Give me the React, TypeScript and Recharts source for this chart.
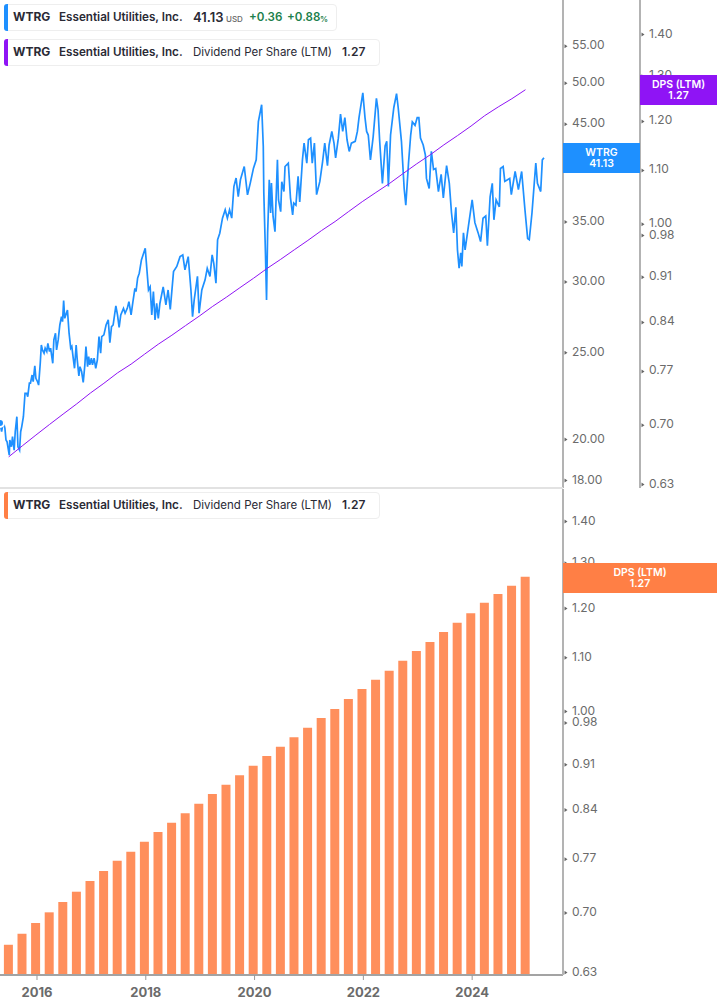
import React from "react";
import { ComposedChart, Line, Bar, XAxis, YAxis } from "recharts";

const FONT = "Inter, 'Noto Sans', sans-serif";
const BLUE = "#1E90FF";
const PURPLE = "#8F14F5";
const ORANGE = "#FF8F5C";
const ORANGE_TAG = "#FF7F45";

const priceDates = [
  2015.32,2015.35,2015.38,2015.41,2015.43,2015.45,2015.49,2015.50,2015.53,2015.55,2015.58,2015.60,2015.63,2015.65,2015.68,2015.70,2015.72,2015.75,2015.78,2015.81,2015.83,2015.86,2015.88,2015.91,2015.93,2015.96,2015.98,
  2016.01,2016.03,2016.06,2016.08,2016.10,2016.13,2016.15,2016.18,2016.20,2016.23,2016.25,2016.29,2016.31,2016.34,2016.36,2016.39,2016.42,2016.45,2016.47,2016.49,2016.51,2016.53,2016.56,2016.59,2016.62,2016.64,2016.67,2016.69,2016.72,2016.74,2016.77,2016.79,2016.82,2016.85,2016.88,2016.90,2016.93,2016.95,2016.97,
  2017.00,2017.02,2017.05,2017.08,2017.11,2017.14,2017.17,2017.19,2017.23,2017.27,2017.31,2017.34,2017.37,2017.40,2017.45,2017.48,2017.51,2017.54,2017.59,2017.62,2017.66,2017.69,2017.73,2017.76,2017.80,2017.82,2017.85,2017.88,2017.92,2017.99,
  2018.05,2018.08,2018.11,2018.14,2018.17,2018.20,2018.23,2018.26,2018.32,2018.37,2018.41,2018.45,2018.51,2018.57,2018.63,2018.68,2018.72,2018.78,2018.83,2018.86,2018.89,2018.95,2018.98,
  2019.03,2019.09,2019.13,2019.18,2019.22,2019.25,2019.29,2019.32,2019.36,2019.41,2019.46,2019.50,2019.54,2019.58,2019.62,2019.66,2019.70,2019.74,2019.81,2019.87,2019.92,2019.98,
  2020.03,2020.07,2020.13,2020.16,2020.17,2020.20,2020.22,2020.24,2020.25,2020.27,2020.295,2020.31,2020.34,2020.375,2020.42,2020.44,2020.48,2020.50,2020.54,2020.56,2020.62,2020.66,2020.70,2020.72,2020.76,2020.80,2020.83,2020.88,2020.91,2020.96,2020.99,
  2021.03,2021.06,2021.10,2021.14,2021.20,2021.25,2021.29,2021.34,2021.37,2021.42,2021.46,2021.49,2021.54,2021.58,2021.62,2021.66,2021.70,2021.74,2021.78,2021.85,2021.89,2021.92,2021.99,
  2022.03,2022.06,2022.09,2022.13,2022.18,2022.24,2022.27,2022.30,2022.35,2022.40,2022.43,2022.46,2022.50,2022.56,2022.61,2022.64,2022.70,2022.75,2022.78,2022.83,2022.87,2022.90,2022.95,2022.99,
  2023.02,2023.05,2023.10,2023.14,2023.16,2023.21,2023.25,2023.29,2023.33,2023.38,2023.43,2023.47,2023.53,2023.58,2023.62,2023.66,2023.70,2023.73,2023.76,2023.79,2023.81,2023.84,2023.87,2023.93,
  2024.00,2024.05,2024.11,2024.155,2024.20,2024.25,2024.28,2024.33,2024.37,2024.40,2024.44,2024.50,2024.52,2024.57,2024.60,2024.69,2024.72,2024.79,2024.85,2024.91,2024.97,
  2025.02,2025.05,2025.10,2025.17,2025.20,2025.26,2025.29,2025.32,
];

const priceValues = [
  20.79,20.33,20.86,20.52,19.90,19.81,19.14,19.90,19.56,20.07,19.39,20.33,21.13,19.56,19.39,20.33,20.60,21.13,22.44,22.44,22.25,23.03,23.03,23.52,23.12,24.08,23.32,
  23.12,22.92,24.24,25.41,25.09,24.88,25.20,24.98,25.52,24.98,25.20,24.24,25.74,26.19,25.09,25.74,26.75,27.33,26.98,28.48,27.21,27.45,27.80,26.19,25.20,25.31,24.45,23.93,25.41,24.45,23.46,24.03,23.73,23.08,24.14,25.31,24.03,24.66,24.14,
  24.56,24.14,24.56,23.93,24.45,25.96,24.88,25.96,26.08,26.75,27.10,25.56,26.63,26.75,28.09,27.45,26.59,27.45,27.92,27.57,27.92,28.41,27.45,28.29,29.40,29.15,30.18,30.56,31.62,32.58,
  29.27,29.51,27.45,29.15,27.10,28.29,27.21,28.29,29.51,28.17,29.27,27.85,30.69,31.10,31.89,32.03,30.82,31.89,29.27,27.33,28.53,30.31,27.57,
  29.27,30.04,30.95,30.31,32.03,31.35,29.78,33.30,33.87,35.21,35.97,35.21,35.97,35.21,38.19,39.03,37.22,38.86,40.21,37.38,38.50,40.04,
  40.90,45.13,47.13,42.36,37.55,32.18,28.53,33.90,35.36,38.86,35.67,38.53,35.36,34.00,40.90,36.90,35.80,38.66,37.70,40.21,40.56,37.10,35.50,36.60,36.40,39.20,36.70,40.90,42.70,40.56,43.07,
  43.25,40.56,42.70,37.40,38.70,40.70,42.70,40.30,42.50,44.00,42.70,41.10,43.25,46.00,44.00,45.60,43.07,41.80,42.70,42.90,44.00,45.60,48.60,
  45.60,44.00,43.60,40.90,43.40,47.90,46.50,42.90,38.50,42.40,42.90,38.20,43.60,46.80,48.50,46.80,42.90,38.00,36.40,40.56,43.60,45.10,44.70,45.60,
  45.60,43.25,42.50,41.40,39.00,38.00,41.80,39.90,40.00,37.70,39.40,37.10,40.30,38.50,35.70,33.90,36.20,32.45,30.95,32.20,31.10,33.90,32.45,34.45,
  36.90,34.80,33.90,33.15,35.20,35.40,32.80,37.20,38.50,35.06,36.90,36.25,40.00,40.20,38.70,39.00,37.40,39.70,37.90,39.70,36.00,
  33.40,33.30,35.70,40.56,38.50,37.70,40.90,41.13,
];

const dpsDates = [
  2015.48,2015.73,2015.98,2016.23,2016.48,2016.73,2016.98,2017.23,2017.48,2017.73,
  2017.98,2018.23,2018.48,2018.73,2018.98,2019.23,2019.48,2019.73,2019.98,2020.23,
  2020.48,2020.73,2020.98,2021.23,2021.48,2021.73,2021.98,2022.23,2022.48,2022.73,
  2022.98,2023.23,2023.48,2023.73,2023.98,2024.23,2024.48,2024.73,2024.98,
];

const dpsValues = [
  0.660,0.673,0.686,0.699,0.712,0.725,0.739,0.752,0.766,0.778,
  0.792,0.806,0.819,0.833,0.847,0.862,0.876,0.891,0.906,0.922,
  0.937,0.953,0.969,0.986,1.002,1.020,1.038,1.055,1.072,1.091,
  1.110,1.128,1.148,1.167,1.187,1.209,1.228,1.246,1.266,
];

const yearTicks = [2016, 2018, 2020, 2022, 2024];
const priceTicks = [18, 20, 25, 30, 35, 40, 45, 50, 55];
const dpsTicks = [0.63, 0.7, 0.77, 0.84, 0.91, 0.98, 1.0, 1.1, 1.2, 1.3, 1.4];

const topRows = [
  ...priceDates.map((year, i) => ({ year, price: priceValues[i] })),
  ...dpsDates.map((year, i) => ({ year, dps: dpsValues[i] })),
].sort((a, b) => a.year - b.year);

const barRows = dpsDates.map((year, i) => ({ year, dps: dpsValues[i] }));

const xDomain = [2015.32, 2025.67];

const AxisTick = (props: any) => {
  const { x, y, payload } = props;
  return (
    <g>
      <path d={`M${x + 1.5} ${y - 0.5}L${x + 4.5} ${y + 1.5}L${x + 1.5} ${y + 3.5}Z`} fill="#666" />
      <text x={x + 9} y={y + 4.5} fontFamily={FONT} fontSize={12} fill="#6b6b6b">
        {Number(payload.value).toFixed(2)}
      </text>
    </g>
  );
};

const abs = (left: number, top: number, extra: any = {}): any => ({
  position: "absolute",
  left,
  top,
  whiteSpace: "nowrap",
  fontFamily: FONT,
  fontSize: 12,
  lineHeight: "14px",
  color: "#2a2a35",
  ...extra,
});

const LegendBox = ({ top, width, height, color }: any) => (
  <div style={{ position: "absolute", left: 4, top, width, height, boxSizing: "border-box", background: "#fff", border: "1px solid #eeeeee", borderRadius: 4 }}>
    <div style={{ position: "absolute", left: -1, top: -1, bottom: -1, width: 4, background: color, borderRadius: "3px 0 0 3px" }} />
  </div>
);

const DpsLegendText = ({ top }: any) => (
  <>
    <span style={abs(13, top, { fontWeight: 700 })}>WTRG</span>
    <span style={abs(59, top, { fontWeight: 600, fontSize: 11.7 })}>Essential Utilities, Inc.</span>
    <span style={abs(193, top, { fontWeight: 400, fontSize: 11.5 })}>Dividend Per Share (LTM)</span>
    <span style={abs(342, top, { fontWeight: 600 })}>1.27</span>
  </>
);

const Tag = ({ left, top, width, color, lines }: any) => (
  <div style={{ position: "absolute", left, top, width, height: 30, background: color, color: "#fff", fontFamily: FONT, fontSize: 10.5, fontWeight: 600, lineHeight: "11px", textAlign: "center", paddingTop: 4, boxSizing: "border-box" }}>
    {lines.map((t: string) => <div key={t}>{t}</div>)}
  </div>
);

export default function App() {
  return (
    <div style={{ position: "absolute", left: 0, top: 0, width: 717, height: 1005, background: "#fff", overflow: "hidden" }}>
      <div style={{ position: "absolute", left: 0, top: 0 }}>
        <ComposedChart width={717} height={488} data={topRows} margin={{ top: 0, right: 0, bottom: 0, left: 0 }}>
          <XAxis dataKey="year" type="number" domain={xDomain} hide allowDataOverflow />
          <YAxis yAxisId="a_price" orientation="right" width={77} scale="log" type="number" domain={[17.59, 61.7]} allowDataOverflow ticks={priceTicks} interval={0} tick={<AxisTick />} tickLine={false} tickSize={0} tickMargin={0} axisLine={{ stroke: "#b3b3b3", strokeWidth: 2 }} />
          <YAxis yAxisId="b_dps" orientation="right" width={77} scale="log" type="number" domain={[0.6245, 1.4845]} allowDataOverflow ticks={dpsTicks} interval={0} tick={<AxisTick />} tickLine={false} tickSize={0} tickMargin={0} axisLine={{ stroke: "#b3b3b3", strokeWidth: 2 }} />
          <Line yAxisId="a_price" dataKey="price" type="linear" stroke={BLUE} strokeWidth={1.7} dot={false} connectNulls isAnimationActive={false} />
          <Line yAxisId="b_dps" dataKey="dps" type="linear" stroke={PURPLE} strokeWidth={1} dot={false} connectNulls isAnimationActive={false} />
        </ComposedChart>
      </div>
      <div style={{ position: "absolute", left: 0, top: 487, width: 563, height: 2, background: "#e2e2e2" }} />
      <div style={{ position: "absolute", left: 0, top: 489 }}>
        <ComposedChart width={717} height={516} data={barRows} margin={{ top: 0, right: 0, bottom: 0, left: 0 }}>
          <XAxis dataKey="year" type="number" domain={xDomain} allowDataOverflow ticks={yearTicks} interval={0} height={30} tickSize={5} tickMargin={8} tickFormatter={(v: number) => String(v)} tick={{ fontFamily: FONT, fontSize: 13, fontWeight: 700, fill: "#6b6b6b" }} tickLine={{ stroke: "#999" }} axisLine={{ stroke: "#a3a3a3", strokeWidth: 2 }} />
          <YAxis yAxisId="dps" orientation="right" width={154} scale="log" type="number" domain={[0.6256, 1.479]} allowDataOverflow ticks={dpsTicks} interval={0} tick={<AxisTick />} tickLine={false} tickSize={0} tickMargin={0} axisLine={{ stroke: "#b3b3b3", strokeWidth: 2 }} />
          <Bar yAxisId="dps" dataKey="dps" fill={ORANGE} barSize={9} isAnimationActive={false} />
        </ComposedChart>
      </div>

      <LegendBox top={4} width={333} height={27} color={BLUE} />
      <span style={abs(13, 10, { fontWeight: 700 })}>WTRG</span>
      <span style={abs(59, 10, { fontWeight: 600, fontSize: 11.7 })}>Essential Utilities, Inc.</span>
      <span style={abs(193, 10, { fontWeight: 600, fontSize: 13 })}>41.13</span>
      <span style={abs(226, 12, { fontSize: 8, fontWeight: 500, color: "#666" })}>USD</span>
      <span style={abs(249, 10, { fontWeight: 600, fontSize: 11.6, color: "#1C7F4C" })}>+0.36</span>
      <span style={abs(287, 10, { fontWeight: 600, fontSize: 11.6, color: "#1C7F4C" })}>+0.88</span>
      <span style={abs(320, 12, { fontSize: 8, fontWeight: 600, color: "#1C7F4C" })}>%</span>

      <LegendBox top={39} width={376} height={27} color={PURPLE} />
      <DpsLegendText top={45} />

      <LegendBox top={492} width={376} height={27} color={ORANGE_TAG} />
      <DpsLegendText top={498} />

      <Tag left={563} top={143} width={77} color={BLUE} lines={["WTRG", "41.13"]} />
      <Tag left={640} top={75} width={77} color={PURPLE} lines={["DPS (LTM)", "1.27"]} />
      <Tag left={563} top={563} width={154} color={ORANGE_TAG} lines={["DPS (LTM)", "1.27"]} />
    </div>
  );
}
